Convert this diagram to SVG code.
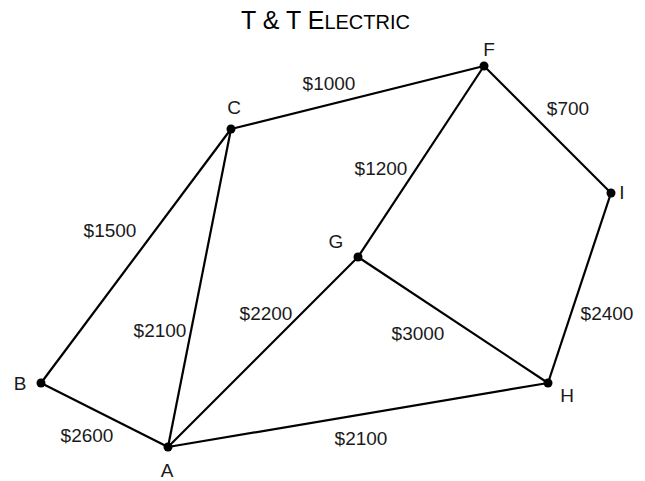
<svg xmlns="http://www.w3.org/2000/svg" width="645" height="481" viewBox="0 0 645 481">
<style>
text{font-family:"Liberation Sans",Arial,sans-serif;fill:#1a1a1a;font-size:19px;text-anchor:middle}
.e{stroke:#000;stroke-width:2.2;fill:none}
.n{fill:#000}
</style>
<rect width="645" height="481" fill="#fff"/>
<text x="325.5" y="29" style="font-size:25px;fill:#000">T &amp; T E<tspan style="font-size:20px">LECTRIC</tspan></text>
<g id="connectors">
<line class="e" x1="41" y1="383" x2="168" y2="447"/>
<line class="e" x1="41" y1="383" x2="231" y2="129"/>
<line class="e" x1="168" y1="447" x2="231" y2="129"/>
<line class="e" x1="168" y1="447" x2="358" y2="257"/>
<line class="e" x1="168" y1="447" x2="548" y2="383"/>
<line class="e" x1="231" y1="129" x2="484" y2="66"/>
<line class="e" x1="484" y1="66" x2="358" y2="257"/>
<line class="e" x1="484" y1="66" x2="611" y2="193"/>
<line class="e" x1="611" y1="193" x2="548" y2="383"/>
<line class="e" x1="358" y1="257" x2="548" y2="383"/>
<text x="329" y="90">$1000</text>
<text x="568" y="115">$700</text>
<text x="381" y="175">$1200</text>
<text x="110" y="237">$1500</text>
<text x="160" y="337">$2100</text>
<text x="266" y="320">$2200</text>
<text x="418" y="340">$3000</text>
<text x="607" y="320">$2400</text>
<text x="87" y="442">$2600</text>
<text x="361" y="445">$2100</text>
</g>
<g id="A"><circle class="n" cx="168" cy="447" r="4.5"/><text x="167" y="477">A</text></g>
<g id="B"><circle class="n" cx="41" cy="383" r="4.5"/><text x="20" y="390">B</text></g>
<g id="C"><circle class="n" cx="231" cy="129" r="4.5"/><text x="234" y="114">C</text></g>
<g id="F"><circle class="n" cx="484" cy="66" r="4.5"/><text x="489" y="56">F</text></g>
<g id="G"><circle class="n" cx="358" cy="257" r="4.5"/><text x="336" y="248">G</text></g>
<g id="H"><circle class="n" cx="548" cy="383" r="4.5"/><text x="567" y="402">H</text></g>
<g id="I"><circle class="n" cx="611" cy="193" r="4.5"/><text x="622" y="199">I</text></g>
</svg>
